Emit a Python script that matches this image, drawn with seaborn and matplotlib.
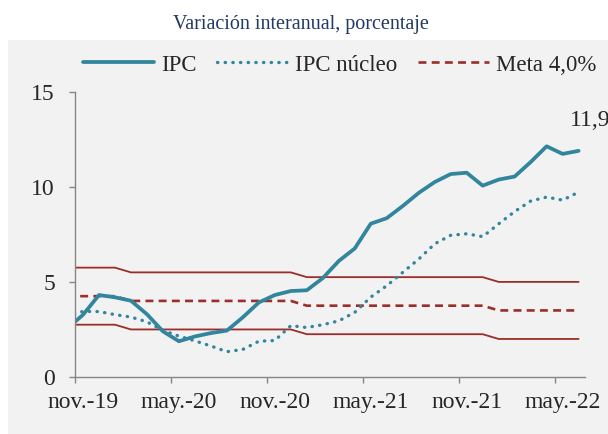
import matplotlib
matplotlib.use("Agg")
import matplotlib.pyplot as plt
from matplotlib.patches import Rectangle
from matplotlib.lines import Line2D
import seaborn as sns
import pandas as pd

# months oct-19 ... jun-22 (oct-19 sits just left of the axis and gets clipped)
months = pd.date_range("2019-10-01", "2022-06-01", freq="MS")

ipc = [2.54, 3.27, 4.31, 4.19, 4.01, 3.30, 2.40, 1.88, 2.13, 2.31, 2.44, 3.14,
       3.92, 4.31, 4.52, 4.56, 5.20, 6.10, 6.76, 8.06, 8.35, 8.99, 9.68, 10.25,
       10.67, 10.74, 10.06, 10.38, 10.54, 11.30, 12.13, 11.73, 11.89]
ipc_nucleo = [3.20, 3.45, 3.44, 3.28, 3.15, 2.90, 2.45, 2.15, 1.90, 1.63, 1.33, 1.45,
              1.88, 1.92, 2.70, 2.60, 2.75, 2.95, 3.40, 4.20, 4.80, 5.50, 6.20, 7.00,
              7.45, 7.53, 7.38, 8.05, 8.70, 9.25, 9.46, 9.30, 9.72]
meta = [4.25] * 4 + [4.0] * 11 + [3.75] * 12 + [3.5] * 6
banda_sup = [m + 1.5 for m in meta]
banda_inf = [m - 1.5 for m in meta]

tick_labels = ["nov.-19", "may.-20", "nov.-20", "may.-21", "nov.-21", "may.-22"]

df = pd.DataFrame({"mes": months, "ipc": ipc, "nucleo": ipc_nucleo,
                   "meta": meta, "sup": banda_sup, "inf": banda_inf})
df["x"] = range(-1, len(df) - 1)   # 0 = nov-19

sns.set_style("ticks")
plt.rcParams["font.family"] = ["Liberation Serif", "DejaVu Serif"]

teal = "#31859c"
red = "#9b2d2a"
navy = "#203864"

fig = plt.figure(figsize=(6.08, 4.34), dpi=100)
fig.patches.append(Rectangle((8 / 608, 0), 1, 1 - 40 / 434, transform=fig.transFigure,
                             facecolor="#f2f2f2", edgecolor="none", zorder=-5))
ax = fig.add_axes([75 / 608, 1 - 377 / 434, (585 - 75) / 608, (377 - 91.7) / 434])
ax.set_zorder(2)
ax.set_facecolor("none")

sns.lineplot(data=df, x="x", y="sup", ax=ax, color=red, linewidth=1.3, legend=False)
sns.lineplot(data=df, x="x", y="inf", ax=ax, color=red, linewidth=1.3, legend=False)
sns.lineplot(data=df, x="x", y="meta", ax=ax, color=red, linewidth=1.9,
             linestyle=(0, (3, 2)), legend=False)
sns.lineplot(data=df, x="x", y="nucleo", ax=ax, color=teal, linewidth=2.4,
             linestyle=(0, (0.1, 2.2)), dash_capstyle="round", legend=False)
sns.lineplot(data=df, x="x", y="ipc", ax=ax, color=teal, linewidth=2.7, legend=False)

ax.set_xlim(-0.5, 31.4)
ax.set_ylim(0, 15)
ax.set_yticks([0, 5, 10, 15])
ax.set_xticks([-0.5 + 6 * i for i in range(6)])
ax.set_xticklabels([])
ax.set_xticks([6 * i for i in range(6)], minor=True)
ax.set_xticklabels(tick_labels, minor=True)
ax.tick_params(axis="x", which="minor", length=0, pad=11, labelsize=17)
ax.tick_params(axis="x", which="major", length=4.5, width=1, color="#868686")
ax.tick_params(axis="y", length=4.5, width=1, color="#868686", pad=10, labelsize=17)
ax.set_xlabel("")
ax.set_ylabel("")
sns.despine(ax=ax)
for s in ["left", "bottom"]:
    ax.spines[s].set_color("#868686")
    ax.spines[s].set_linewidth(1)

# etiqueta del último dato
ax.annotate(f"{ipc[-1]:.1f}".replace(".", ","), xy=(df["x"].iloc[-1], ipc[-1]),
            xytext=(-6, 14), textcoords="offset points", fontsize=17,
            va="bottom", ha="left", annotation_clip=False)

handles = [Line2D([], [], color=teal, linewidth=2.7),
           Line2D([], [], color=teal, linewidth=2.4, linestyle=(0, (0.1, 2.2)),
                  dash_capstyle="round"),
           Line2D([], [], color=red, linewidth=1.9, linestyle=(0, (3, 2)))]
fig.legend(handles, ["IPC", "IPC núcleo", "Meta 4,0%"], loc="center",
           bbox_to_anchor=(340 / 608, 1 - 65 / 434), ncol=3, frameon=False,
           fontsize=16.5, handlelength=3.1, handletextpad=0.3, columnspacing=0.9)

fig.text(301 / 608, 1 - 24 / 434, "Variación interanual, porcentaje", color=navy,
         fontsize=14.5, ha="center", va="center")
fig.text(295 / 608, 1 + 4 / 434, "Inflación en Brasil", color=navy, fontsize=14,
         fontweight="bold", ha="center", va="center", alpha=0.6)

fig.savefig("out.png", dpi=100)
